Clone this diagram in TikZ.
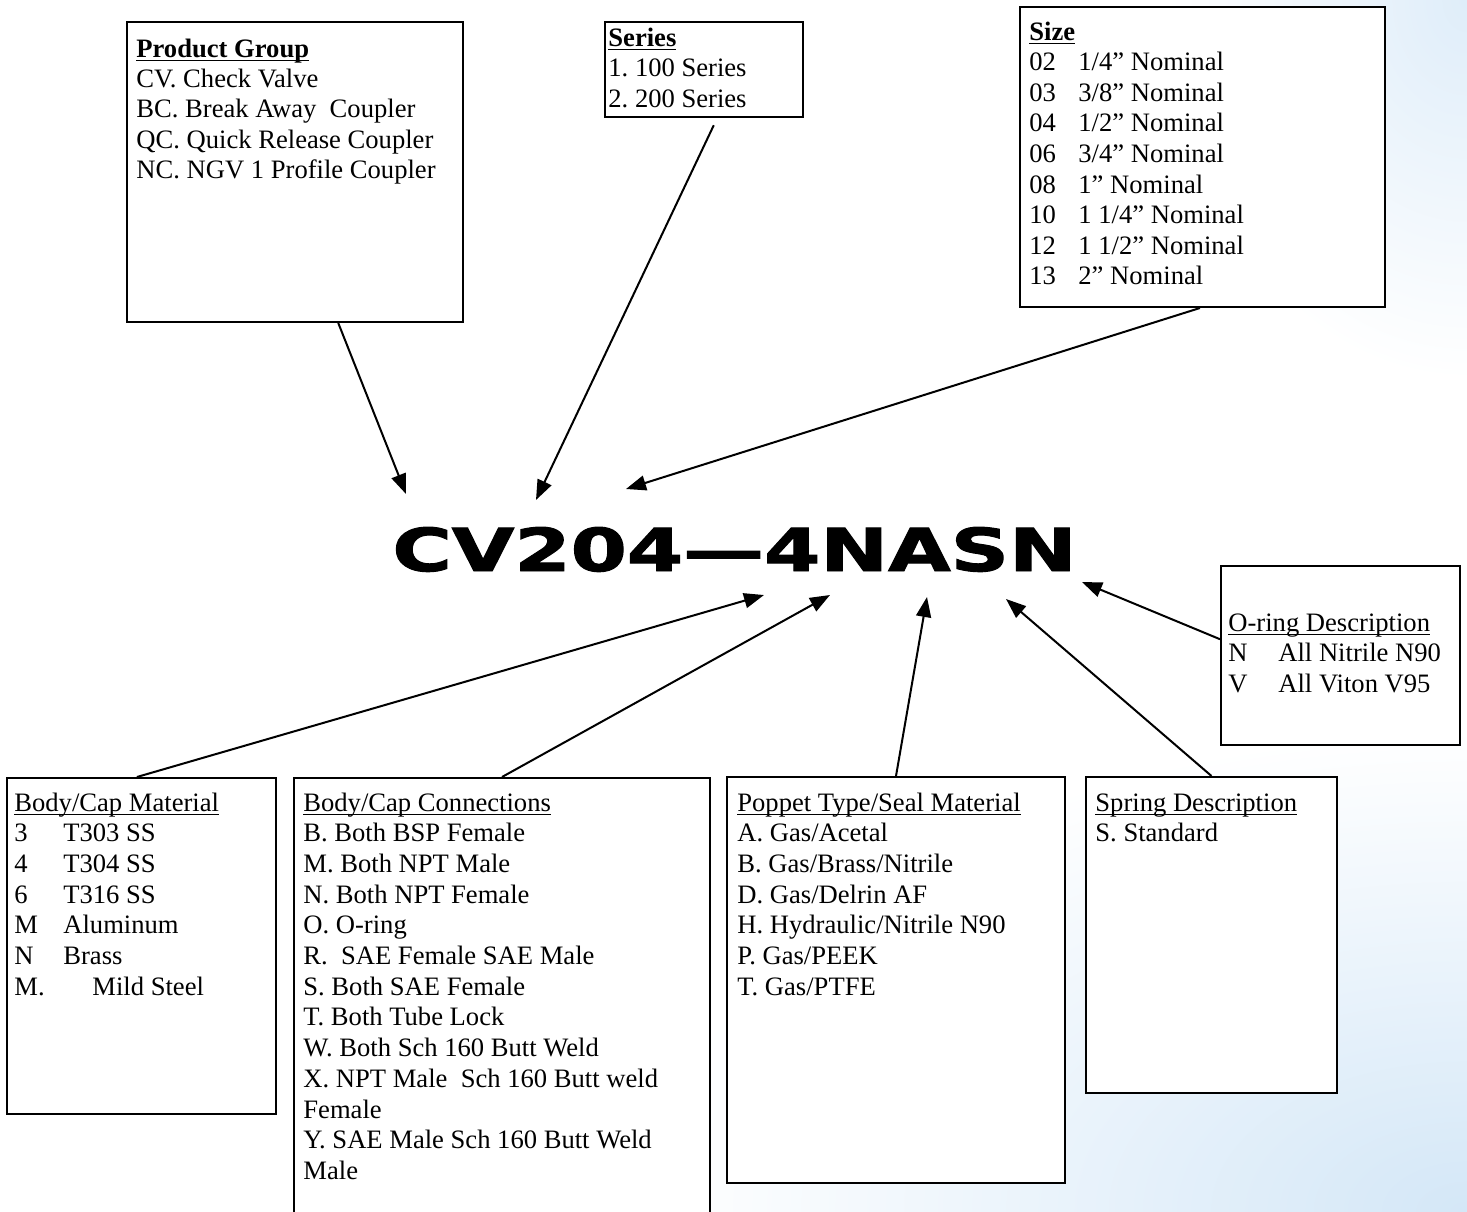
\documentclass[tikz,border=0pt]{standalone}
\usepackage{graphicx}
\usepackage{fontspec}
\setmainfont{Liberation Serif}
\newfontfamily\titlefont{DejaVu Sans Bold}[FakeBold=1.6]
\usetikzlibrary{arrows.meta,calc,fit}
\definecolor{bgblue}{RGB}{212,231,247}
\newcommand\myul[1]{\setbox0\hbox{#1}\rlap{\rule[-2.2pt]{\wd0}{0.8pt}}\box0}
\frenchspacing
\begin{document}
\begin{tikzpicture}[x=0.5pt,y=-0.5pt,
  box/.style={draw, line width=1pt, fill=white, inner sep=0pt},
  txt/.style={inner sep=0pt, anchor=base west, font=\fontsize{13.3pt}{15pt}\selectfont},
  arr/.style={line width=1pt, -{Triangle[length=10pt,width=7.5pt]}}]
\useasboundingbox (0,0) rectangle (1467,1211);
\clip (0,0) rectangle (1467,1211);
% background
\fill[white] (0,0) rectangle (1467,1211);
\shade[inner color=bgblue, outer color=white] (1467,1211) ellipse (820 and 480);
\shade[inner color=bgblue!75, outer color=white] (1467,0) ellipse (300 and 380);
% boxes
\node[box, fit={(127,22) (463,322)}] (pg) {};
\node[box, fit={(605,22) (803,117)}] (ser) {};
\node[box, fit={(1020,7) (1385,307)}] (size) {};
\node[box, fit={(1221,566) (1460,745)}] (oring) {};
\node[box, fit={(7,778) (276,1114)}] (mat) {};
\node[box, fit={(294,778) (710,1240)}] (conn) {};
\node[box, fit={(727,777) (1065,1183)}] (pop) {};
\node[box, fit={(1086,777) (1337,1093)}] (spr) {};
% title code
\node[inner sep=0pt, anchor=base west] (code) at (392,571)
  {\resizebox{342pt}{22pt}{\titlefont CV204—4NASN}};
% texts
\foreach \s [count=\i from 0] in {{\bfseries\myul{Product Group}},CV. Check Valve,BC. Break Away\ \ Coupler,QC. Quick Release Coupler,NC. NGV 1 Profile Coupler}
  \node[txt] (pg-\i) at (136,{57+\i*30.4}) {\s};
\foreach \s [count=\i from 0] in {{\bfseries\myul{Series}},1. 100 Series,2. 200 Series}
  \node[txt] (ser-\i) at (608,{46+\i*30.5}) {\s};
\foreach \s [count=\i from 0] in {{\bfseries\myul{Size}},
  {\makebox[24.5pt][l]{02}1/4” Nominal},
  {\makebox[24.5pt][l]{03}3/8” Nominal},
  {\makebox[24.5pt][l]{04}1/2” Nominal},
  {\makebox[24.5pt][l]{06}3/4” Nominal},
  {\makebox[24.5pt][l]{08}1” Nominal},
  {\makebox[24.5pt][l]{10}1 1/4” Nominal},
  {\makebox[24.5pt][l]{12}1 1/2” Nominal},
  {\makebox[24.5pt][l]{13}2” Nominal}}
  \node[txt] (size-\i) at (1029,{40+\i*30.6}) {\s};
\foreach \s [count=\i from 0] in {{\myul{O-ring Description}},
  {\makebox[25pt][l]{N}All Nitrile N90},
  {\makebox[25pt][l]{V}All Viton V95}}
  \node[txt] (oring-\i) at (1228,{631+\i*30.6}) {\s};
\foreach \s [count=\i from 0] in {{\myul{Body/Cap Material}},
  {\makebox[24.5pt][l]{3}T303 SS},
  {\makebox[24.5pt][l]{4}T304 SS},
  {\makebox[24.5pt][l]{6}T316 SS},
  {\makebox[24.5pt][l]{M}Aluminum},
  {\makebox[24.5pt][l]{N}Brass},
  {\makebox[39pt][l]{M.}Mild Steel}}
  \node[txt] (mat-\i) at (14,{811+\i*30.7}) {\s};
\foreach \s [count=\i from 0] in {{\myul{Body/Cap Connections}},B. Both BSP Female,M. Both NPT Male,N. Both NPT Female,O. O-ring,R.\ \ SAE Female SAE Male,S. Both SAE Female,T. Both Tube Lock,W. Both Sch 160 Butt Weld,X. NPT Male\ \ Sch 160 Butt weld,Female,Y. SAE Male Sch 160 Butt Weld,Male}
  \node[txt] (conn-\i) at (303,{811+\i*30.7}) {\s};
\foreach \s [count=\i from 0] in {{\myul{Poppet Type/Seal Material}},A. Gas/Acetal,B. Gas/Brass/Nitrile,D. Gas/Delrin AF,H. Hydraulic/Nitrile N90,P. Gas/PEEK,T. Gas/PTFE}
  \node[txt] (pop-\i) at (737,{811+\i*30.7}) {\s};
\foreach \s [count=\i from 0] in {{\myul{Spring Description}},S. Standard}
  \node[txt] (spr-\i) at (1095,{811+\i*30.7}) {\s};
% arrow tips
\coordinate (t1) at (406,494);
\coordinate (t2) at (536,500);
\coordinate (t3) at (626,489);
\coordinate (t4) at (764,595);
\coordinate (t5) at (830,595);
\coordinate (t6) at (927,597);
\coordinate (t7) at (1006,599);
\coordinate (t8) at (1082,582);
% connectors
\draw[arr] ($(pg.south west)!0.628!(pg.south east)$) -- (t1);
\draw[arr, shorten <=4pt] ($(ser.south west)!0.566!(ser.south east)$) -- (t2);
\draw[arr] ($(size.south west)!0.493!(size.south east)$) -- (t3);
\draw[arr] ($(mat.north west)!0.483!(mat.north east)$) -- (t4);
\draw[arr] (conn.north) -- (t5);
\draw[arr] (pop.north) -- (t6);
\draw[arr] (spr.north) -- (t7);
\draw[arr] ($(oring.north west)!0.41!(oring.south west)$) -- (t8);
\end{tikzpicture}
\end{document}
